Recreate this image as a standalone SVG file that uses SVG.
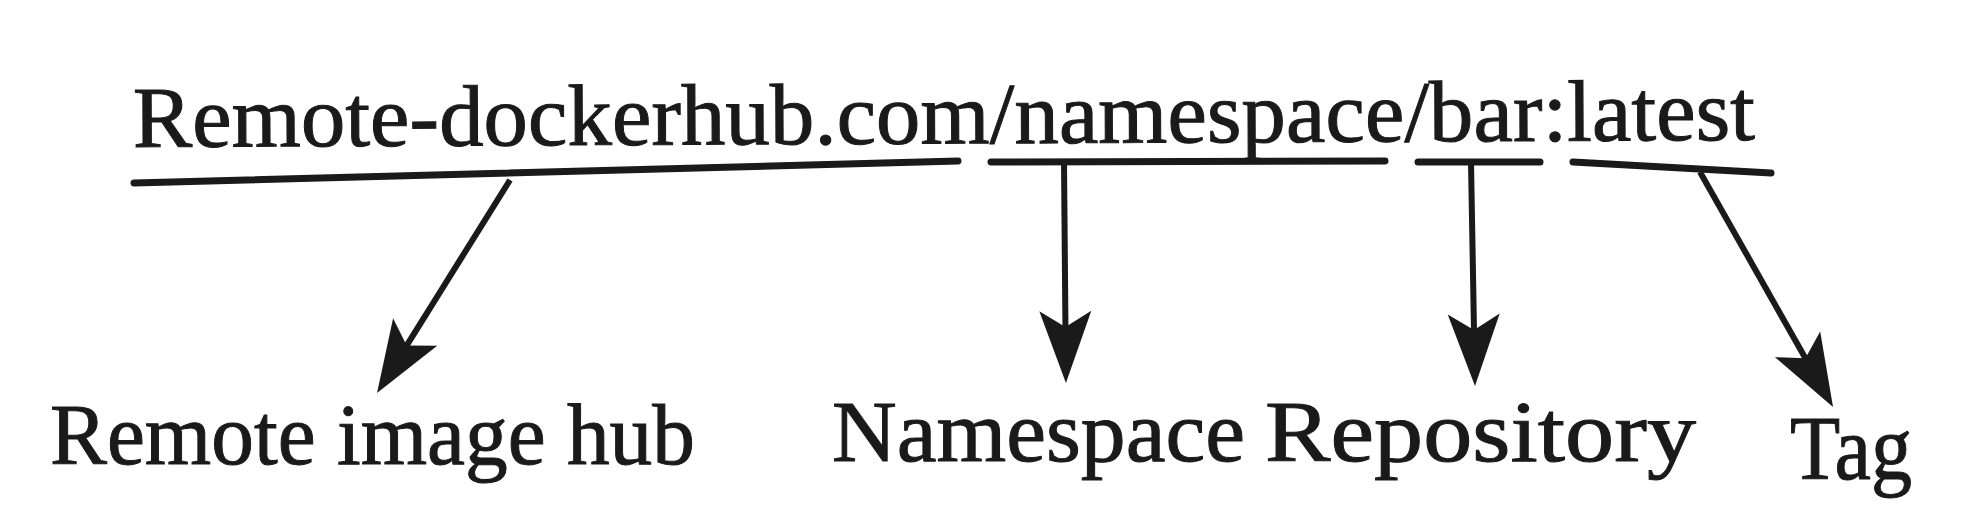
<svg xmlns="http://www.w3.org/2000/svg" width="1985" height="532" viewBox="0 0 1985 532">
  <style>
    .t { font-family: "Liberation Serif", "Times New Roman", serif; fill: #1a1a1a; stroke: #1a1a1a; stroke-width: 1; }
    .ul { stroke: #1a1a1a; stroke-width: 7; stroke-linecap: round; fill: none; }
    .ar { stroke: #1a1a1a; stroke-width: 6; fill: none; marker-end: url(#head); }
  </style>
  <defs>
    <marker id="head" markerUnits="userSpaceOnUse" viewBox="-74 -28 76 56" markerWidth="76" markerHeight="56" refX="-50" refY="0" orient="auto" overflow="visible">
      <path d="M0,0 L-72,-26 L-56,0 L-72,26 Z" fill="#1a1a1a"/>
    </marker>
  </defs>
  <rect width="1985" height="532" fill="#ffffff"/>

  <g id="image-name">
    <text class="t" x="133" y="147" font-size="87" textLength="1622" lengthAdjust="spacingAndGlyphs" transform="rotate(-0.25 133 147)">Remote-dockerhub.com/namespace/bar:latest</text>
  </g>

  <g id="connectors">
    <line class="ul" x1="134" y1="183" x2="958" y2="161"/>
    <line class="ul" x1="991" y1="162" x2="1385" y2="161"/>
    <line class="ul" x1="1418" y1="162" x2="1540" y2="162"/>
    <line class="ul" x1="1573" y1="162" x2="1771" y2="173"/>
    <line class="ar" x1="510" y1="180" x2="403.5" y2="350.6"/>
    <line class="ar" x1="1064" y1="162" x2="1065.5" y2="333"/>
    <line class="ar" x1="1471" y1="162" x2="1474.1" y2="336"/>
    <line class="ar" x1="1700" y1="172" x2="1808.4" y2="363.5"/>
  </g>

  <g id="remote-image-hub">
    <text class="t" x="50" y="464" font-size="87" textLength="645" lengthAdjust="spacingAndGlyphs">Remote image hub</text>
  </g>
  <g id="namespace">
    <text class="t" x="832" y="461" font-size="87" textLength="413" lengthAdjust="spacingAndGlyphs">Namespace</text>
  </g>
  <g id="repository">
    <text class="t" x="1265" y="461" font-size="87" textLength="431" lengthAdjust="spacingAndGlyphs">Repository</text>
  </g>
  <g id="tag">
    <text class="t" x="1790" y="479" font-size="90" textLength="122" lengthAdjust="spacingAndGlyphs">Tag</text>
  </g>
</svg>
